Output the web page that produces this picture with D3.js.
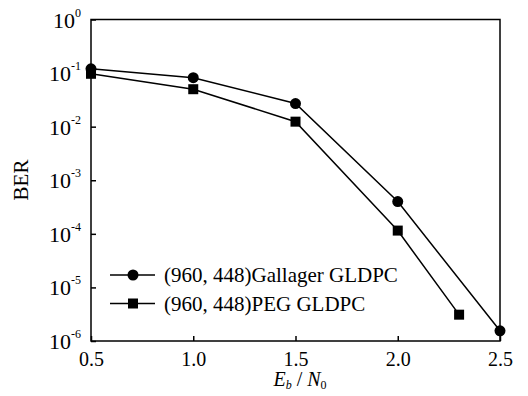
<!DOCTYPE html>
<html>
<head>
<meta charset="utf-8">
<script src="https://cdn.jsdelivr.net/npm/d3@7"></script>
<style>
  body { margin: 0; background: #fff; }
  svg text { font-family: "Liberation Serif", "Times New Roman", "DejaVu Serif", serif; fill: #000; }
</style>
</head>
<body>
<svg id="chart" width="528" height="396"></svg>
<script>
// data
var gallagerX = [0.5, 1.0, 1.5, 2.0, 2.5];
var gallagerBer = [0.12, 0.082, 0.027, 4.0e-4, 1.55e-6];
var pegX = [0.5, 1.0, 1.5, 2.0, 2.3];
var pegBer = [0.097, 0.050, 0.0124, 1.15e-4, 3.1e-6];
var xTicks = [0.5, 1.0, 1.5, 2.0, 2.5];
var yExponents = [0, -1, -2, -3, -4, -5, -6];
var legendLabels = ["(960, 448)Gallager GLDPC", "(960, 448)PEG GLDPC"];

var serif = "Liberation Serif, Times New Roman, serif";
var svg = d3.select("#chart");
var margin = { top: 19.5, right: 28, bottom: 55, left: 91 };
var width = 528 - margin.left - margin.right;
var height = 396 - margin.top - margin.bottom;

var x = d3.scaleLinear().domain([0.5, 2.5]).range([0, width]);
var y = d3.scaleLog().domain([1e-6, 1]).range([height, 0]);

var g = svg.append("g")
    .attr("transform", "translate(" + margin.left + "," + margin.top + ")");

// frame
g.append("rect")
    .attr("width", width).attr("height", height)
    .attr("fill", "none").attr("stroke", "#000").attr("stroke-width", 1.5);

// x axis
var xAxis = d3.axisBottom(x)
    .tickValues(xTicks)
    .tickFormat(d3.format(".1f"))
    .tickSizeInner(-5).tickSizeOuter(0).tickPadding(11);
var xg = g.append("g")
    .attr("transform", "translate(0," + height + ")")
    .call(xAxis)
    .attr("font-family", serif);
xg.select(".domain").remove();
xg.selectAll("line").attr("stroke-width", 1.5);
xg.selectAll("text").attr("font-size", 20).attr("font-family", serif);

// y axis
var yAxis = d3.axisLeft(y)
    .tickValues(yExponents.map(function (e) { return Math.pow(10, e); }))
    .tickFormat("")
    .tickSizeInner(-5).tickSizeOuter(0);
var yg = g.append("g").call(yAxis);
yg.select(".domain").remove();
yg.selectAll("line").attr("stroke-width", 1.5);

yExponents.forEach(function (e) {
    var t = g.append("text")
        .attr("x", -10)
        .attr("y", y(Math.pow(10, e)) + 8)
        .attr("text-anchor", "end")
        .attr("font-family", serif)
        .attr("font-size", 22);
    t.append("tspan").text("10");
    t.append("tspan").attr("dy", -11).attr("font-size", 12).text(e === 0 ? "0" : "-" + (-e));
});

// axis titles
svg.append("text")
    .attr("transform", "translate(28,180) rotate(-90)")
    .attr("text-anchor", "middle")
    .attr("font-family", serif)
    .attr("font-size", 21)
    .text("BER");

var xt = svg.append("text")
    .attr("x", 300)
    .attr("y", 386)
    .attr("text-anchor", "middle")
    .attr("font-family", serif)
    .attr("font-size", 20)
    .attr("font-style", "italic");
xt.append("tspan").text("E");
xt.append("tspan").attr("dy", 3).attr("font-size", 12).text("b");
xt.append("tspan").attr("dy", -3).attr("font-style", "normal").text(" / ");
xt.append("tspan").text("N");
xt.append("tspan").attr("dy", 3).attr("font-size", 12).attr("font-style", "normal").text("0");

// series
var line = d3.line()
    .x(function (d) { return x(d[0]); })
    .y(function (d) { return y(d[1]); });

var gallager = gallagerX.map(function (v, i) { return [v, gallagerBer[i]]; });
var peg = pegX.map(function (v, i) { return [v, pegBer[i]]; });

[gallager, peg].forEach(function (data) {
    g.append("path")
        .datum(data)
        .attr("fill", "none")
        .attr("stroke", "#000")
        .attr("stroke-width", 1.5)
        .attr("d", line);
});

g.selectAll(".circ").data(gallager).enter().append("circle")
    .attr("cx", function (d) { return x(d[0]); })
    .attr("cy", function (d) { return y(d[1]); })
    .attr("r", 5.5)
    .attr("fill", "#000");

g.selectAll(".sq").data(peg).enter().append("rect")
    .attr("x", function (d) { return x(d[0]) - 5; })
    .attr("y", function (d) { return y(d[1]) - 5; })
    .attr("width", 10).attr("height", 10)
    .attr("fill", "#000");

// legend
var legend = svg.append("g");
legendLabels.forEach(function (label, i) {
    var ly = 275 + i * 28.5;
    legend.append("line")
        .attr("x1", 110).attr("x2", 155)
        .attr("y1", ly).attr("y2", ly)
        .attr("stroke", "#000").attr("stroke-width", 1.5);
    if (i === 0) {
        legend.append("circle").attr("cx", 133).attr("cy", ly).attr("r", 5.5).attr("fill", "#000");
    } else {
        legend.append("rect").attr("x", 128).attr("y", ly - 5).attr("width", 10).attr("height", 10).attr("fill", "#000");
    }
    legend.append("text")
        .attr("x", 164).attr("y", ly + 7)
        .attr("font-family", serif)
        .attr("font-size", 21)
        .text(label);
});
</script>
</body>
</html>
